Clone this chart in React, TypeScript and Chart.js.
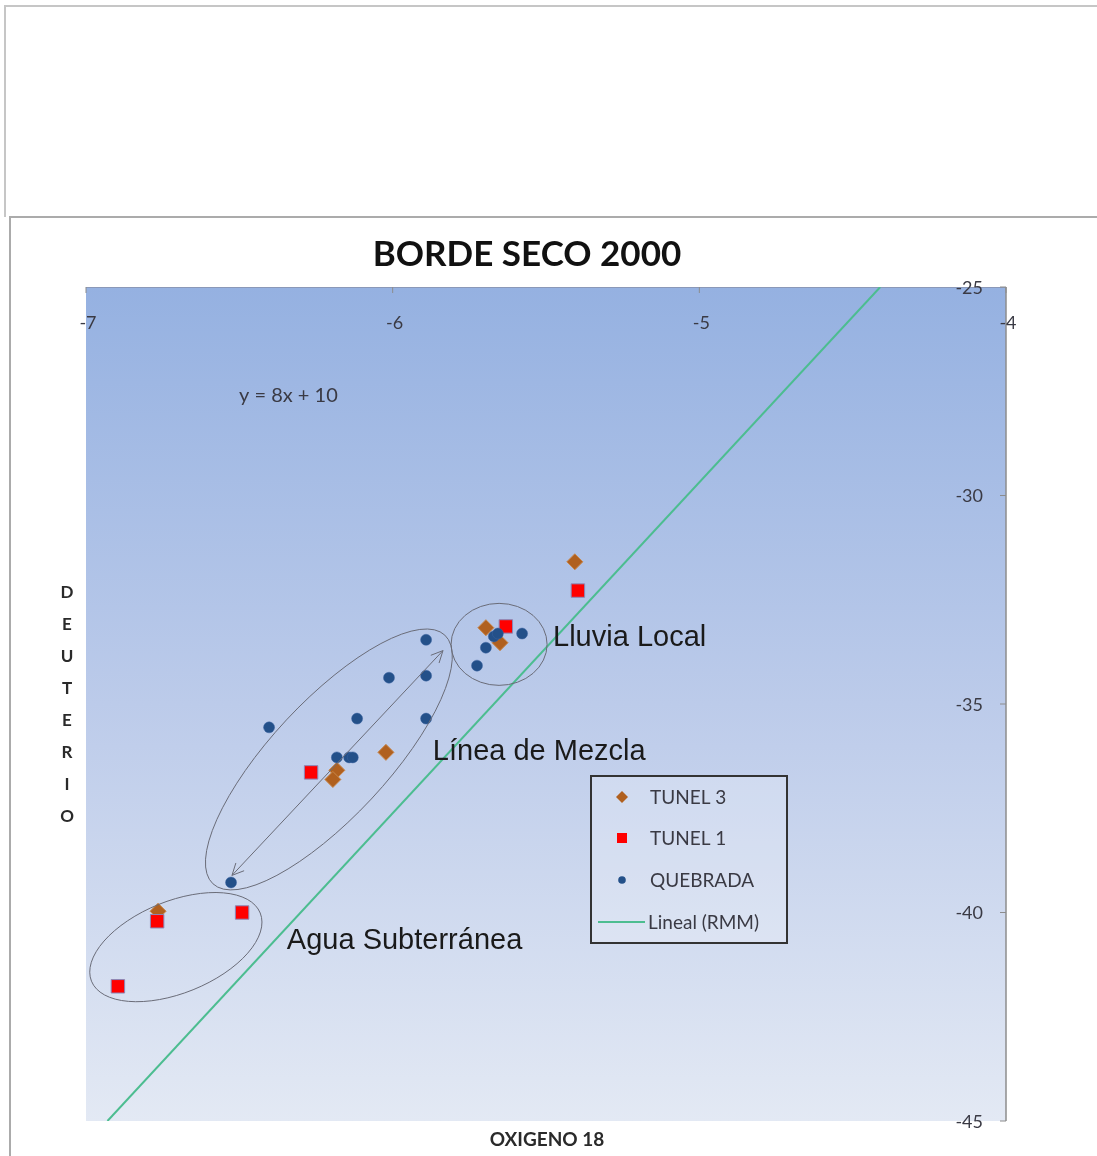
import React, { useEffect, useRef } from 'react';
import { Chart, registerables } from 'chart.js';

Chart.register(...registerables);

// ---- Data ----
const xTicks = [-7, -6, -5, -4];
const yTicks = [-45, -40, -35, -30, -25];

const tunel3X = [-5.406, -5.696, -5.65, -6.022, -6.182, -6.195, -6.765];
const tunel3Y = [-31.59, -33.17, -33.53, -36.16, -36.59, -36.81, -39.97];

const tunel1X = [-5.396, -5.631, -6.266, -6.768, -6.491, -6.896];
const tunel1Y = [-32.28, -33.14, -36.64, -40.21, -40.0, -41.77];

const quebradaX = [-5.578, -5.67, -5.657, -5.696, -5.725, -5.891, -6.012, -5.891, -6.116, -5.891, -6.403, -6.182, -6.142, -6.13, -6.527];
const quebradaY = [-33.31, -33.38, -33.31, -33.65, -34.08, -33.46, -34.37, -34.32, -35.35, -35.35, -35.56, -36.28, -36.28, -36.28, -39.28];

// RMM line (Lineal) endpoints
const rmmX = [-6.93, -4.41];
const rmmY = [-45, -25];

const seriesNames = ['TUNEL 3', 'TUNEL 1', 'QUEBRADA', 'Lineal (RMM)'];
const chartTitle = 'BORDE SECO 2000';
const xTitle = 'OXIGENO 18';
const yTitle = 'DEUTERIO';
const equationText = 'y = 8x + 10';

// Annotation texts, anchored in data coordinates (left edge, vertical middle)
const noteTexts = ['Lluvia Local', 'Línea de Mezcla', 'Agua Subterránea'];
const noteX = [-5.477, -5.869, -6.345];
const noteY = [-33.41, -36.14, -40.69];

// Ellipses: centers in data coords
const ellipseCX = [-5.653, -6.208, -6.707];
const ellipseCY = [-33.57, -36.33, -40.83];

// Arrow ends in data coords
const arrowX = [-6.524, -5.836];
const arrowY = [-39.11, -33.72];

const toPts = (xs: number[], ys: number[]) => xs.map((x, i) => ({ x, y: ys[i] }));

const COL_T3 = '#b0601f';
const COL_T1 = '#ff0000';
const COL_Q = '#235089';
const COL_LINE = '#4cbd90';
const TXT = '#3a3a44';
const CAL = 'Lato, "Open Sans", sans-serif';
const ARIAL = '"Liberation Sans", Arial, sans-serif';

// ellipse shape sizes (pixels) and rotation (deg)
const ellipseA = [48, 170, 91];
const ellipseB = [41, 58, 46];
const ellipseRot = [0, -47, -22];

const decoPlugin = {
  id: 'deco',
  beforeDatasetsDraw(chart: any) {
    const { ctx, chartArea: a, scales } = chart;
    ctx.save();
    const g = ctx.createLinearGradient(0, a.top, 0, a.bottom);
    g.addColorStop(0, '#95b1e1');
    g.addColorStop(0.5, '#bccbea');
    g.addColorStop(1, '#e3e9f4');
    ctx.fillStyle = g;
    ctx.fillRect(a.left, a.top, a.right - a.left, a.bottom - a.top);

    // top axis line
    ctx.strokeStyle = '#8a98b8';
    ctx.lineWidth = 1;
    ctx.beginPath();
    ctx.moveTo(a.left, a.top + 0.5);
    ctx.lineTo(a.right, a.top + 0.5);
    ctx.stroke();
    // right axis line
    ctx.strokeStyle = '#8c8c8c';
    ctx.lineWidth = 1.5;
    ctx.beginPath();
    ctx.moveTo(a.right, a.top);
    ctx.lineTo(a.right, a.bottom);
    ctx.stroke();

    // x ticks & labels
    ctx.fillStyle = TXT;
    ctx.font = `18px ${CAL}`;
    ctx.textAlign = 'center';
    ctx.textBaseline = 'middle';
    ctx.strokeStyle = '#8c8c8c';
    ctx.lineWidth = 1;
    xTicks.forEach((v) => {
      const px = scales.x.getPixelForValue(v);
      ctx.beginPath();
      ctx.moveTo(px, a.top);
      ctx.lineTo(px, a.top + 6);
      ctx.stroke();
      ctx.fillText(String(v), px + 2, a.top + 36);
    });
    // y ticks & labels
    ctx.textAlign = 'right';
    yTicks.forEach((v) => {
      const py = scales.y.getPixelForValue(v);
      ctx.beginPath();
      ctx.moveTo(a.right - 6, py);
      ctx.lineTo(a.right, py);
      ctx.stroke();
      ctx.fillText(String(v), a.right - 23, py + 1);
    });
    ctx.restore();
  },
  afterDatasetsDraw(chart: any) {
    const { ctx, scales } = chart;
    const X = (v: number) => scales.x.getPixelForValue(v);
    const Y = (v: number) => scales.y.getPixelForValue(v);
    ctx.save();
    // ellipses
    ctx.strokeStyle = '#6a6c78';
    ctx.lineWidth = 1;
    ellipseCX.forEach((cx, i) => {
      ctx.beginPath();
      ctx.ellipse(X(cx), Y(ellipseCY[i]), ellipseA[i], ellipseB[i], (ellipseRot[i] * Math.PI) / 180, 0, Math.PI * 2);
      ctx.stroke();
    });
    // double arrow
    const x1 = X(arrowX[0]), y1 = Y(arrowY[0]), x2 = X(arrowX[1]), y2 = Y(arrowY[1]);
    ctx.strokeStyle = '#6a6c78';
    ctx.beginPath();
    ctx.moveTo(x1, y1);
    ctx.lineTo(x2, y2);
    ctx.stroke();
    const head = (tx: number, ty: number, fx: number, fy: number) => {
      const ang = Math.atan2(ty - fy, tx - fx);
      const L = 13, w = 0.45;
      ctx.beginPath();
      ctx.moveTo(tx - L * Math.cos(ang - w), ty - L * Math.sin(ang - w));
      ctx.lineTo(tx, ty);
      ctx.lineTo(tx - L * Math.cos(ang + w), ty - L * Math.sin(ang + w));
      ctx.stroke();
    };
    head(x2, y2, x1, y1);
    head(x1, y1, x2, y2);

    // annotation texts
    ctx.fillStyle = '#1a1a1a';
    ctx.font = `29px ${ARIAL}`;
    ctx.textAlign = 'left';
    ctx.textBaseline = 'middle';
    noteTexts.forEach((t, i) => ctx.fillText(t, X(noteX[i]), Y(noteY[i])));

    // equation
    ctx.fillStyle = TXT;
    ctx.font = `20px ${CAL}`;
    ctx.fillText(equationText, X(-6.501), Y(-27.61));

    // legend
    const lx = 591, ly = 776, lw = 196, lh = 167;
    ctx.fillStyle = 'rgba(255,255,255,0.22)';
    ctx.fillRect(lx, ly, lw, lh);
    ctx.strokeStyle = '#333333';
    ctx.lineWidth = 2;
    ctx.strokeRect(lx, ly, lw, lh);
    const rows = [797, 838, 880, 922];
    const mx = 622;
    ctx.font = `19px ${CAL}`;
    ctx.textBaseline = 'middle';
    // diamond
    ctx.fillStyle = COL_T3;
    ctx.beginPath();
    ctx.moveTo(mx, rows[0] - 6);
    ctx.lineTo(mx + 6, rows[0]);
    ctx.lineTo(mx, rows[0] + 6);
    ctx.lineTo(mx - 6, rows[0]);
    ctx.closePath();
    ctx.fill();
    // square
    ctx.fillStyle = COL_T1;
    ctx.fillRect(mx - 5, rows[1] - 5, 10, 10);
    // circle
    ctx.fillStyle = COL_Q;
    ctx.beginPath();
    ctx.arc(mx, rows[2], 3.8, 0, Math.PI * 2);
    ctx.fill();
    // line
    ctx.strokeStyle = COL_LINE;
    ctx.lineWidth = 2;
    ctx.beginPath();
    ctx.moveTo(lx + 7, rows[3]);
    ctx.lineTo(lx + 54, rows[3]);
    ctx.stroke();
    ctx.fillStyle = TXT;
    seriesNames.forEach((n, i) => ctx.fillText(n, i === 3 ? lx + 57 : 650, rows[i] + 1));

    ctx.restore();
  },
  afterDraw(chart: any) {
    const { ctx } = chart;
    ctx.save();
    ctx.fillStyle = '#111';
    ctx.textAlign = 'center';
    ctx.textBaseline = 'middle';
    ctx.font = `bold 35px ${CAL}`;
    ctx.fillText(chartTitle, 527, 255);
    ctx.font = `bold 19px ${CAL}`;
    ctx.fillStyle = '#2a2a2a';
    ctx.fillText(xTitle, 547, 1140);
    ctx.font = `bold 17px ${CAL}`;
    yTitle.split('').forEach((ch, i) => ctx.fillText(ch, 67, 593 + i * 32));
    ctx.restore();
  },
};

export default function App() {
  const ref = useRef<HTMLCanvasElement>(null);
  useEffect(() => {
    const canvas = ref.current!;
    const chart = new Chart(canvas, {
      type: 'scatter',
      data: {
        datasets: [
          {
            label: seriesNames[0],
            data: toPts(tunel3X, tunel3Y),
            pointStyle: 'rectRot',
            pointRadius: 8,
            backgroundColor: COL_T3,
            borderColor: '#c8864a',
            borderWidth: 1,
            order: 2,
          },
          {
            label: seriesNames[1],
            data: toPts(tunel1X, tunel1Y),
            pointStyle: 'rect',
            pointRadius: 9.5,
            backgroundColor: COL_T1,
            borderColor: '#8a88b8',
            borderWidth: 1,
            order: 1,
          },
          {
            label: seriesNames[2],
            data: toPts(quebradaX, quebradaY),
            pointStyle: 'circle',
            pointRadius: 5.5,
            backgroundColor: COL_Q,
            borderColor: '#3a62a0',
            borderWidth: 0.5,
            order: 0,
          },
          {
            label: seriesNames[3],
            data: toPts(rmmX, rmmY),
            showLine: true,
            pointRadius: 0,
            borderColor: COL_LINE,
            borderWidth: 2,
            backgroundColor: COL_LINE,
            order: 3,
          } as any,
        ],
      },
      options: {
        responsive: false,
        animation: false,
        devicePixelRatio: 1,
        layout: { padding: { left: 86, right: 91, top: 287, bottom: 35 } },
        scales: {
          x: { type: 'linear', min: -7, max: -4, display: false },
          y: { type: 'linear', min: -45, max: -25, display: false },
        },
        plugins: {
          legend: { display: false },
          title: { display: false },
          tooltip: { enabled: false },
        },
        events: [],
      },
      plugins: [decoPlugin],
    });
    return () => chart.destroy();
  }, []);

  return (
    <div style={{ position: 'absolute', left: 0, top: 0, width: 1097, height: 1156, background: '#fff', overflow: 'hidden' }}>
      <div style={{ position: 'absolute', left: 4, top: 5, width: 1093, height: 0, borderTop: '2px solid #c6c6c6' }} />
      <div style={{ position: 'absolute', left: 4, top: 5, width: 0, height: 212, borderLeft: '2px solid #c6c6c6' }} />
      <div style={{ position: 'absolute', left: 9, top: 216, width: 1088, height: 0, borderTop: '2px solid #ababab' }} />
      <div style={{ position: 'absolute', left: 9, top: 216, width: 0, height: 940, borderLeft: '2px solid #ababab' }} />
      <canvas ref={ref} width={1097} height={1156} style={{ position: 'absolute', left: 0, top: 0 }} />
    </div>
  );
}
